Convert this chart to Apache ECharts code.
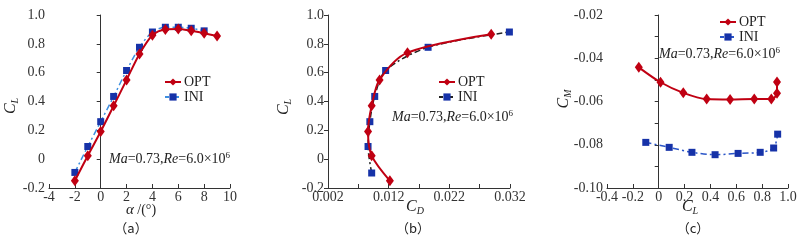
<!DOCTYPE html>
<html><head><meta charset="utf-8">
<script src="https://cdn.jsdelivr.net/npm/echarts@6/dist/echarts.min.js"></script>
<style>html,body{margin:0;padding:0;background:#fff}#c{width:804px;height:241px}</style>
</head><body><div id="c"></div>
<script>
// ---- data ----
const alphaOpt = [-2,-1,0,1,2,3,4,5,6,7,8,9];
const clOpt    = [-0.15,0.024,0.192,0.37,0.55,0.73,0.86,0.90,0.903,0.89,0.873,0.855];
const alphaIni = [-2,-1,0,1,2,3,4,5,6,7,8];
const clIni    = [-0.092,0.088,0.26,0.435,0.615,0.776,0.882,0.915,0.915,0.908,0.89];

const cdOptB = [0.0122,0.0092,0.0086,0.0092,0.0105,0.0151,0.0289];
const clOptB = [-0.15,0.024,0.192,0.37,0.55,0.739,0.866];
const cdIniB = [0.0092,0.0086,0.0089,0.0097,0.0115,0.0185,0.0319];
const clIniB = [-0.096,0.088,0.26,0.435,0.615,0.776,0.882];

const clOptC = [-0.154,0.014,0.19,0.371,0.552,0.739,0.871,0.915,0.915];
const cmOptC = [-0.0442,-0.0511,-0.0560,-0.0589,-0.0591,-0.0589,-0.0589,-0.0562,-0.0510];
const clIniC = [-0.10,0.081,0.257,0.436,0.614,0.785,0.889,0.92];
const cmIniC = [-0.0789,-0.0812,-0.0835,-0.0846,-0.0840,-0.0835,-0.0815,-0.0751];

const seriesNames = ['OPT','INI'];
const captions = ['（a）','（b）','（c）'];

const pairs = (xs, ys) => xs.map((x,i)=>[x, ys[i]]);

const FONT = 'Liberation Serif';
const RED = '#c00012';
const BLUE = '#1632a8';
const AXC = '#333';
const labelStyle = {fontFamily: FONT, fontSize: 14, color: '#333'};

function yAxis(grid, min, max, interval, fmt, minor) {
  return {type:'value', gridIndex:grid, min, max, interval,
    axisLine:{show:true, lineStyle:{color:AXC}},
    axisTick:{show:true, inside:false, length:4, lineStyle:{color:AXC}},
    minorTick:{show:!!minor, splitNumber:2, length:4, lineStyle:{color:AXC}},
    splitLine:{show:false}, minorSplitLine:{show:false},
    axisLabel:Object.assign({margin:4, formatter:fmt}, labelStyle)};
}
function xAxis(grid, min, max, interval, fmt, minor) {
  return {type:'value', gridIndex:grid, min, max, interval,
    axisLine:{show:true, onZero:false, lineStyle:{color:AXC}},
    axisTick:{show:true, inside:true, length:4, lineStyle:{color:AXC}},
    minorTick:{show:!!minor, splitNumber:2, length:4, lineStyle:{color:AXC}},
    splitLine:{show:false}, minorSplitLine:{show:false},
    axisLabel:Object.assign({margin:2, formatter:fmt}, labelStyle)};
}
const f1 = v => Math.abs(v) < 1e-9 ? '0' : v.toFixed(1);
const f0 = v => String(Math.round(v));
const f3 = v => v.toFixed(3);
const f2 = v => v.toFixed(2);

const optSeries = (xi, yi, data) => ({name:seriesNames[0], type:'line', xAxisIndex:xi, yAxisIndex:yi, data,
  smooth:0.3, symbol:'diamond', symbolSize:[8,11], z:3,
  lineStyle:{color:RED, width:2}, itemStyle:{color:RED}});
const iniSeries = (xi, yi, data, lc) => ({name:seriesNames[1], type:'line', xAxisIndex:xi, yAxisIndex:yi, data,
  smooth:0.3, symbol:'rect', symbolSize:7, z:2,
  lineStyle:{color:lc, width:1.5, type:[6,3,2,3]}, itemStyle:{color:BLUE}});

const legendBase = (left, top, iniLine) => ({
  orient:'vertical', left, top, padding:0, itemGap:1, itemWidth:16, itemHeight:9,
  textStyle:{fontFamily:FONT, fontSize:14, color:'#222', padding:[0,0,0,-2]},
  selectedMode:false,
  data:[{name:'OPT'}, {name:'INI', lineStyle:{color:iniLine, type:[4,2,2,2]}, itemStyle:{color:BLUE}}]
});

const annRich = {
  t:{fontFamily:FONT, fontSize:14, fill:'#222', lineHeight:16},
  i:{fontFamily:FONT, fontSize:14, fontStyle:'italic', fill:'#222', lineHeight:16},
  s:{fontFamily:FONT, fontSize:9, fill:'#222', lineHeight:9, verticalAlign:'top'}
};
const ann = (x, y) => ({type:'text', x, y, style:{text:'{i|Ma}{t|=0.73,}{i|Re}{t|=6.0×10}{s|6}', rich:annRich, textAlign:'left', textVerticalAlign:'middle'}});
const nameRich = {
  c:{fontFamily:FONT, fontSize:16, fontStyle:'italic', fill:'#222', lineHeight:18},
  s:{fontFamily:FONT, fontSize:10, fontStyle:'italic', fill:'#222', lineHeight:10, verticalAlign:'bottom'}
};
const nameTxt = (x, y, sym, sub, rot) => ({type:'text', x, y, rotation: rot ? Math.PI/2 : 0,
  style:{text:'{c|'+sym+'}{s|'+sub+'}', rich:nameRich, textAlign:'center', textVerticalAlign:'middle'}});
const cap = (x, y, t) => ({type:'text', x, y, style:{text:t, fontFamily:'Noto Sans CJK SC', fontSize:13, fill:'#222', textAlign:'center', textVerticalAlign:'middle'}});

const option = {
  backgroundColor:'#fff',
  animation:false,
  grid:[
    {left:49, top:15, width:181, height:173},
    {left:328, top:15, width:182, height:173},
    {left:607, top:15, width:181, height:173}
  ],
  xAxis:[
    xAxis(0, -4, 10, 2, f0, false),
    xAxis(1, 0.002, 0.032, 0.01, f3, true),
    xAxis(2, -0.4, 1.0, 0.2, f1, false)
  ],
  yAxis:[
    yAxis(0, -0.2, 1.0, 0.2, f1, false),
    yAxis(1, -0.2, 1.0, 0.2, f1, false),
    yAxis(2, -0.10, -0.02, 0.02, f2, true)
  ],
  legend:[legendBase(164, 75, '#3d8fe0'), legendBase(438, 75, '#222'), legendBase(719, 15, '#2a55c8')],
  series:[
    optSeries(0,0,pairs(alphaOpt, clOpt)),
    iniSeries(0,0,pairs(alphaIni, clIni), '#3d8fe0'),
    iniSeries(1,1,pairs(cdIniB, clIniB), '#222'),
    optSeries(1,1,pairs(cdOptB, clOptB)),
    optSeries(2,2,pairs(clOptC, cmOptC)),
    iniSeries(2,2,pairs(clIniC, cmIniC), '#2a55c8')
  ],
  graphic:[
    ann(109,159), ann(392,117), ann(659,54),
    {type:'text', x:141, y:210, style:{text:'{i|α}{t| /(°)}', rich:{i:{fontFamily:FONT,fontSize:15,fontStyle:'italic',fill:'#222'}, t:{fontFamily:FONT,fontSize:14,fill:'#222'}}, textAlign:'center', textVerticalAlign:'middle'}},
    nameTxt(415, 207, 'C', 'D', false),
    nameTxt(690, 207, 'C', 'L', false),
    nameTxt(11, 106, 'C', 'L', true),
    nameTxt(284, 107, 'C', 'L', true),
    nameTxt(564, 99, 'C', 'M', true),
    cap(131, 228, captions[0]), cap(413, 228, captions[1]), cap(693, 228, captions[2])
  ]
};
const chart = echarts.init(document.getElementById('c'), null, {renderer:'canvas'});
chart.setOption(option);
</script></body></html>
